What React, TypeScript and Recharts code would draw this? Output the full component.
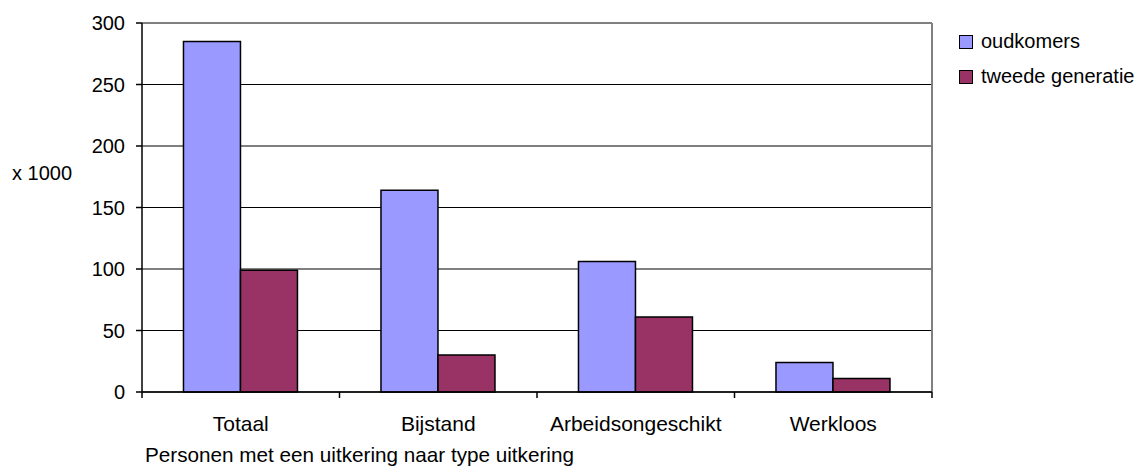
import { BarChart, Bar, XAxis, YAxis, CartesianGrid } from 'recharts'

const categories = ['Totaal', 'Bijstand', 'Arbeidsongeschikt', 'Werkloos']
const oudkomers = [285, 164, 106, 24]
const tweedeGeneratie = [99, 30, 61, 11]
const yTicks = [0, 50, 100, 150, 200, 250, 300]

const data = categories.map((name, i) => ({
  name,
  oudkomers: oudkomers[i],
  tweede: tweedeGeneratie[i],
}))

const FONT = '"Liberation Sans", Arial, sans-serif'
const TICK_MARGIN = 24

const legendItems = [
  { label: 'oudkomers', color: '#9999ff' },
  { label: 'tweede generatie', color: '#993366' },
]

// category label plus Excel-style tick marks at the category boundaries
function CategoryTick(props: any) {
  const { x, y, payload, index, visibleTicksCount } = props
  const half = payload?.offset ?? 0
  const axisY = y - TICK_MARGIN
  const isLast = index === visibleTicksCount - 1
  return (
    <g>
      <line x1={x - half} x2={x - half} y1={axisY} y2={axisY + 6} stroke="#000" strokeWidth={1.5} />
      {isLast && <line x1={x + half} x2={x + half} y1={axisY} y2={axisY + 6} stroke="#000" strokeWidth={1.5} />}
      <text x={x} y={y} dy="0.71em" textAnchor="middle" fill="#000" fontSize={21}>
        {payload.value}
      </text>
    </g>
  )
}

function LegendBox() {
  return (
    <div
      style={{
        position: 'absolute',
        left: 951,
        top: 16,
        fontFamily: FONT,
        fontSize: 20,
        color: '#000',
        whiteSpace: 'nowrap',
      }}
    >
      {legendItems.map(item => (
        <div key={item.label} style={{ display: 'flex', alignItems: 'center', height: 35 }}>
          <span
            style={{
              width: 12,
              height: 12,
              background: item.color,
              border: '1px solid #000',
              marginRight: 8,
              display: 'inline-block',
            }}
          />
          <span>{item.label}</span>
        </div>
      ))}
    </div>
  )
}

export default function App() {
  return (
    <div style={{ fontFamily: FONT, background: '#fff', position: 'relative', width: 1138, height: 460 }}>
      <BarChart
        width={1138}
        height={460}
        data={data}
        margin={{ top: 15, right: 214, bottom: 0, left: 0 }}
        barCategoryGap="21%"
        barGap={0}
      >
        <CartesianGrid vertical={false} stroke="#000" strokeWidth={1} />
        <CartesianGrid
          horizontal={false}
          stroke="#808080"
          strokeWidth={2}
          verticalCoordinatesGenerator={({ offset }: any) => [offset.left + offset.width]}
        />
        <XAxis
          dataKey="name"
          tickLine={false}
          tickSize={0}
          tickMargin={TICK_MARGIN}
          axisLine={{ stroke: '#000', strokeWidth: 1.5 }}
          tick={<CategoryTick />}
          height={76}
          interval={0}
          label={{
            value: 'Personen met een uitkering naar type uitkering',
            position: 'insideBottomLeft',
            offset: 6,
            dx: -3,
            fill: '#000',
            fontSize: 20.7,
          }}
        />
        <YAxis
          domain={[0, 300]}
          ticks={yTicks}
          width={134}
          tickSize={6}
          tickMargin={11}
          tickLine={{ stroke: '#000', strokeWidth: 1.5 }}
          axisLine={{ stroke: '#000', strokeWidth: 1.5 }}
          tick={{ fill: '#000', fontSize: 20 }}
          label={{
            value: 'x 1000',
            position: 'insideLeft',
            offset: 4,
            dy: -35,
            fill: '#000',
            fontSize: 20,
          }}
        />
        <Bar dataKey="oudkomers" fill="#9999ff" stroke="#000" strokeWidth={1.5} isAnimationActive={false} />
        <Bar dataKey="tweede" fill="#993366" stroke="#000" strokeWidth={1.5} isAnimationActive={false} />
      </BarChart>
      <LegendBox />
    </div>
  )
}
